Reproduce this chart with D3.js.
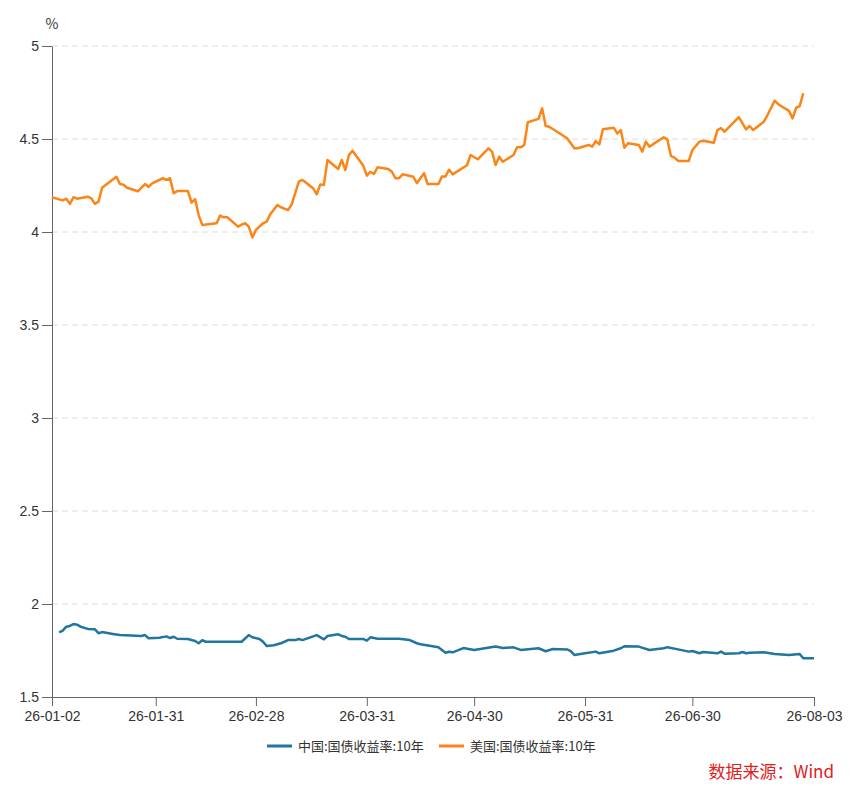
<!DOCTYPE html>
<html>
<head>
<meta charset="utf-8">
<script src="https://cdn.jsdelivr.net/npm/d3@7"></script>
<style>
  html, body { margin: 0; padding: 0; background: #fff; }
  svg { display: block; font-family: 'Noto Sans CJK SC', 'Noto Sans', sans-serif; }
  .tick text { fill: #333; font-size: 14px; }
  .domain, .tick line { stroke: #666; }
</style>
</head>
<body>
<svg id="chart" width="865" height="796"></svg>
<script>
// US 10Y treasury yield (%)
const usDates = [
  '2026-01-02','2026-01-05','2026-01-06','2026-01-07','2026-01-08','2026-01-09','2026-01-12','2026-01-13',
  '2026-01-14','2026-01-15','2026-01-16','2026-01-20','2026-01-21','2026-01-22','2026-01-23','2026-01-26',
  '2026-01-28','2026-01-29','2026-01-30','2026-02-02','2026-02-03','2026-02-04','2026-02-05','2026-02-06',
  '2026-02-09','2026-02-10','2026-02-11','2026-02-12','2026-02-13','2026-02-17','2026-02-18','2026-02-19',
  '2026-02-20','2026-02-23','2026-02-24','2026-02-25','2026-02-26','2026-02-27','2026-02-28','2026-03-02',
  '2026-03-03','2026-03-04','2026-03-06','2026-03-07','2026-03-09','2026-03-10','2026-03-12','2026-03-13',
  '2026-03-16','2026-03-17','2026-03-18','2026-03-19','2026-03-20','2026-03-23','2026-03-24','2026-03-25',
  '2026-03-26','2026-03-27','2026-03-30','2026-03-31','2026-04-01','2026-04-02','2026-04-03','2026-04-06',
  '2026-04-07','2026-04-08','2026-04-09','2026-04-10','2026-04-13','2026-04-14','2026-04-16','2026-04-17',
  '2026-04-20','2026-04-21','2026-04-22','2026-04-23','2026-04-24','2026-04-28','2026-04-29','2026-05-01',
  '2026-05-04','2026-05-05','2026-05-06','2026-05-07','2026-05-08','2026-05-11','2026-05-12','2026-05-13',
  '2026-05-14','2026-05-15','2026-05-18','2026-05-19','2026-05-20','2026-05-21','2026-05-26','2026-05-28',
  '2026-05-29','2026-06-01','2026-06-02','2026-06-03','2026-06-04','2026-06-05','2026-06-08','2026-06-09',
  '2026-06-10','2026-06-11','2026-06-12','2026-06-15','2026-06-16','2026-06-17','2026-06-18','2026-06-22',
  '2026-06-23','2026-06-24','2026-06-25','2026-06-26','2026-06-29','2026-06-30','2026-07-02','2026-07-03',
  '2026-07-06','2026-07-07','2026-07-08','2026-07-09','2026-07-13','2026-07-15','2026-07-16','2026-07-17',
  '2026-07-20','2026-07-21','2026-07-23','2026-07-24','2026-07-27','2026-07-28','2026-07-29','2026-07-30',
  '2026-07-31'
]
const usValues = [
  4.187, 4.170, 4.179, 4.151, 4.187, 4.179, 4.190, 4.181,
  4.151, 4.163, 4.238, 4.297, 4.258, 4.254, 4.238, 4.219,
  4.258, 4.242, 4.262, 4.289, 4.280, 4.289, 4.208, 4.220,
  4.220, 4.158, 4.177, 4.091, 4.038, 4.047, 4.088, 4.079,
  4.079, 4.029, 4.040, 4.047, 4.029, 3.971, 4.011, 4.047,
  4.056, 4.095, 4.145, 4.133, 4.118, 4.149, 4.271, 4.280,
  4.235, 4.203, 4.256, 4.253, 4.387, 4.339, 4.387, 4.333,
  4.414, 4.437, 4.357, 4.303, 4.324, 4.312, 4.348, 4.339,
  4.324, 4.289, 4.289, 4.310, 4.297, 4.262, 4.316, 4.258,
  4.258, 4.299, 4.299, 4.335, 4.310, 4.359, 4.414, 4.391,
  4.450, 4.432, 4.360, 4.405, 4.378, 4.414, 4.455, 4.455,
  4.468, 4.590, 4.608, 4.665, 4.570, 4.566, 4.504, 4.450,
  4.450, 4.468, 4.459, 4.489, 4.471, 4.552, 4.561, 4.530,
  4.548, 4.453, 4.477, 4.468, 4.432, 4.486, 4.459, 4.509,
  4.498, 4.409, 4.400, 4.382, 4.382, 4.441, 4.486, 4.491,
  4.480, 4.548, 4.558, 4.539, 4.617, 4.552, 4.570, 4.548,
  4.593, 4.629, 4.706, 4.687, 4.651, 4.611, 4.668, 4.677,
  4.746
]

// China 10Y government bond yield (%)
const cnDates = [
  '2026-01-04','2026-01-05','2026-01-06','2026-01-07','2026-01-08','2026-01-09','2026-01-10','2026-01-12',
  '2026-01-14','2026-01-15','2026-01-16','2026-01-19','2026-01-21','2026-01-27','2026-01-28','2026-01-29',
  '2026-02-01','2026-02-03','2026-02-04','2026-02-05','2026-02-06','2026-02-09','2026-02-11','2026-02-12',
  '2026-02-13','2026-02-14','2026-02-24','2026-02-26','2026-02-27','2026-03-01','2026-03-02','2026-03-03',
  '2026-03-05','2026-03-07','2026-03-09','2026-03-11','2026-03-12','2026-03-13','2026-03-17','2026-03-19',
  '2026-03-20','2026-03-23','2026-03-24','2026-03-25','2026-03-26','2026-03-30','2026-03-31','2026-04-01',
  '2026-04-03','2026-04-09','2026-04-12','2026-04-14','2026-04-15','2026-04-18','2026-04-20','2026-04-22',
  '2026-04-23','2026-04-24','2026-04-27','2026-04-30','2026-05-03','2026-05-06','2026-05-08','2026-05-11',
  '2026-05-13','2026-05-18','2026-05-20','2026-05-22','2026-05-26','2026-05-27','2026-05-28','2026-05-31',
  '2026-06-03','2026-06-04','2026-06-08','2026-06-10','2026-06-11','2026-06-15','2026-06-18','2026-06-22',
  '2026-06-23','2026-06-26','2026-06-29','2026-06-30','2026-07-02','2026-07-03','2026-07-07','2026-07-08',
  '2026-07-09','2026-07-13','2026-07-14','2026-07-15','2026-07-16','2026-07-20','2026-07-23','2026-07-27',
  '2026-07-30','2026-07-31','2026-08-03'
]
const cnValues = [
  1.848, 1.857, 1.878, 1.882, 1.892, 1.889, 1.878, 1.866,
  1.864, 1.843, 1.849, 1.839, 1.833, 1.828, 1.833, 1.816,
  1.819, 1.826, 1.817, 1.824, 1.813, 1.812, 1.801, 1.789,
  1.805, 1.797, 1.797, 1.833, 1.821, 1.812, 1.797, 1.774,
  1.778, 1.789, 1.806, 1.806, 1.812, 1.806, 1.833, 1.810,
  1.828, 1.837, 1.828, 1.824, 1.812, 1.812, 1.803, 1.821,
  1.813, 1.813, 1.806, 1.789, 1.784, 1.774, 1.767, 1.738,
  1.743, 1.740, 1.763, 1.753, 1.762, 1.771, 1.763, 1.767,
  1.753, 1.762, 1.746, 1.758, 1.756, 1.747, 1.726, 1.735,
  1.744, 1.735, 1.749, 1.762, 1.773, 1.771, 1.753, 1.762,
  1.768, 1.756, 1.744, 1.747, 1.735, 1.742, 1.735, 1.744,
  1.733, 1.735, 1.742, 1.735, 1.738, 1.740, 1.731, 1.726,
  1.731, 1.708, 1.708
]

const xTickDates = ['2026-01-02','2026-01-31','2026-02-28','2026-03-31','2026-04-30','2026-05-31','2026-06-30','2026-08-03']
const yTicks = [1.5, 2, 2.5, 3, 3.5, 4, 4.5, 5]
const seriesNames = ['中国:国债收益率:10年', '美国:国债收益率:10年']
const seriesColors = ['#21759f', '#fb8517']
// --------------------------------------------

const width = 865
const height = 796
const margin = { top: 46, right: 51, bottom: 99, left: 52 }

const parse = d3.timeParse('%Y-%m-%d')
const toPoints = (dates, values) => dates.map((d, i) => ({ date: parse(d), value: values[i] }))

const series = [toPoints(cnDates, cnValues), toPoints(usDates, usValues)]

const x = d3.scaleTime()
  .domain([parse('2026-01-02'), parse('2026-08-03')])
  .range([margin.left, width - margin.right])

const y = d3.scaleLinear()
  .domain([1.5, 5])
  .range([height - margin.bottom, margin.top])

const svg = d3.select('#chart')

// grid
svg.append('g')
  .selectAll('line')
  .data(yTicks.slice(1))
  .enter()
  .append('line')
  .attr('x1', margin.left)
  .attr('x2', width - margin.right)
  .attr('y1', d => y(d))
  .attr('y2', d => y(d))
  .attr('stroke', '#dcdcdc')
  .attr('stroke-dasharray', '6,4')

// axes
svg.append('g')
  .attr('transform', `translate(0,${height - margin.bottom})`)
  .call(d3.axisBottom(x)
    .tickValues(xTickDates.map(parse))
    .tickFormat(d3.timeFormat('%y-%m-%d'))
    .tickSize(9)
    .tickSizeOuter(9)
    .tickPadding(5))

svg.append('g')
  .attr('transform', `translate(${margin.left},0)`)
  .call(d3.axisLeft(y)
    .tickValues(yTicks)
    .tickFormat(d3.format('~g'))
    .tickSize(10)
    .tickSizeOuter(0)
    .tickPadding(3))

svg.append('text')
  .attr('x', margin.left)
  .attr('y', 29)
  .attr('text-anchor', 'middle')
  .attr('fill', '#333')
  .attr('font-size', 14)
  .text('%')

// lines
const line = d3.line().x(d => x(d.date)).y(d => y(d.value))

svg.append('g')
  .selectAll('path')
  .data(series)
  .enter()
  .append('path')
  .attr('d', line)
  .attr('fill', 'none')
  .attr('stroke', (_, i) => seriesColors[i])
  .attr('stroke-width', 2.5)
  .attr('stroke-linejoin', 'round')

// legend
const legendX = [267, 439]
const legendY = 746

const legend = svg.append('g')
  .selectAll('g')
  .data(seriesNames)
  .enter()
  .append('g')
  .attr('transform', (_, i) => `translate(${legendX[i]},${legendY})`)

legend.append('line')
  .attr('x1', 0)
  .attr('x2', 25)
  .attr('stroke', (_, i) => seriesColors[i])
  .attr('stroke-width', 3)

legend.append('text')
  .attr('x', 31)
  .attr('dy', '0.35em')
  .attr('fill', '#333')
  .attr('font-size', 13)
  .text(d => d)

svg.append('text')
  .attr('x', 834)
  .attr('y', 778)
  .attr('text-anchor', 'end')
  .attr('fill', '#e0201c')
  .attr('font-size', 17)
  .text('数据来源：Wind')
</script>
</body>
</html>
